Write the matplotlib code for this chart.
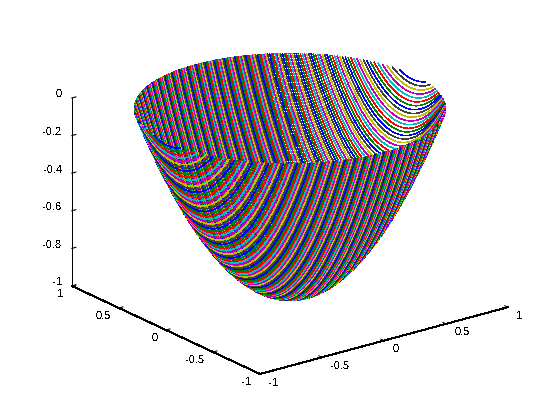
import numpy as np
import matplotlib
matplotlib.use("Agg")
import matplotlib.pyplot as plt
from mpl_toolkits.mplot3d.art3d import Line3DCollection
from mpl_toolkits.mplot3d import proj3d

plt.rcParams['font.family'] = ['Liberation Sans', 'DejaVu Sans']
plt.rcParams['text.antialiased'] = False

# values
x_ticks = [-1, -0.5, 0, 0.5, 1]
y_ticks = [-1, -0.5, 0, 0.5, 1]
z_ticks = [-1, -0.8, -0.6, -0.4, -0.2, 0]
x_tick_labels = ['-1', '-0.5', '0', '0.5', '1']
y_tick_labels = ['-1', '-0.5', '0', '0.5', '1']
z_tick_labels = ['-1', '-0.8', '-0.6', '-0.4', '-0.2', '0']
line_colors = [(0, 0, 1), (0, .5, 0), (1, 0, 0), (0, .75, .75),
               (.75, 0, .75), (.75, .75, 0), (.25, .25, .25)]
slice_count = 197     # parabola slices counted along the x direction
bowl_depth = 1.0      # depth at the centre of the bowl
ELEV, AZIM = 20.8, -127.2
BOX = (311, 311, 201)

fig = plt.figure(figsize=(5.6, 4.2), dpi=100)
ax = fig.add_axes([0.0, 0.0, 1.0, 1.0], projection='3d', proj_type='ortho')
ax.view_init(elev=ELEV, azim=AZIM)
ax.patch.set_alpha(0)

segs, cols = [], []
slices = np.linspace(-1, 1, slice_count + 2)[1:-1]
for i, c in enumerate(slices):
    half = np.sqrt(1 - c**2)
    y = np.linspace(-half, half, 80)
    z = np.minimum(bowl_depth * (c**2 + y**2 - 1), 0)
    pts = np.column_stack([np.full_like(y, c), y, z])
    for a, b in zip(pts[:-1], pts[1:]):
        segs.append([a, b])
        cols.append(line_colors[i % len(line_colors)])

# the collection does not sort its segments, so paint far ones first
segs = np.array(segs)
el, az = np.radians(ELEV), np.radians(AZIM)
view = np.array([np.cos(el) * np.cos(az) * BOX[0] / 2,
                 np.cos(el) * np.sin(az) * BOX[1] / 2,
                 np.sin(el) * BOX[2]])
order = np.argsort(segs.mean(axis=1) @ view)
lc = Line3DCollection(segs[order], colors=[cols[k] for k in order],
                      linewidths=0.36, antialiaseds=False, capstyle='butt')
ax.add_collection3d(lc)

ax.set_xlim(-1, 1); ax.set_ylim(-1, 1); ax.set_zlim(-1, 0)
ax.set_xticks(x_ticks); ax.set_yticks(y_ticks); ax.set_zticks(z_ticks)
ax.set_xticklabels(x_tick_labels)
ax.set_yticklabels(y_tick_labels)
ax.set_zticklabels(z_tick_labels)
ax.grid(False)
for axis in (ax.xaxis, ax.yaxis, ax.zaxis):
    axis.set_pane_color((1, 1, 1, 0))
    axis.pane.set_edgecolor((1, 1, 1, 0))
    axis.line.set_color('k')
    axis.line.set_linewidth(0.72)
    axis.line.set_antialiased(False)
    axis._axinfo['tick']['inward_factor'] = 0.0
    axis._axinfo['tick']['outward_factor'] = 0.2
ax.tick_params(labelsize=8, length=3, width=0.72)
ax.tick_params(axis='x', pad=-6)
ax.tick_params(axis='y', pad=-6)
ax.tick_params(axis='z', pad=-3)
ax.zaxis.set_ticks_position('upper')
ax.zaxis.set_label_position('upper')
plt.setp(ax.get_xticklabels(), ha='left')
plt.setp(ax.get_yticklabels(), ha='right')
plt.setp(ax.get_zticklabels(), ha='right', va='baseline')


def nudge(label, shift):
    """Move a tick label sideways by some pixels each time it is placed."""
    place = label.set_position

    def moved(xy):
        px = ax.transData.transform(xy) + (shift, 0)
        place(ax.transData.inverted().transform(px))
    label.set_position = moved


for labels, shift in ((ax.get_xticklabels(), 6), (ax.get_yticklabels(), -5),
                      (ax.get_zticklabels(), 4)):
    for label in labels:
        nudge(label, shift)


def corner_px(p):
    fig.canvas.draw()
    X, Y, _ = proj3d.proj_transform(*p, ax.get_proj())
    dx, dy = ax.transData.transform((X, Y))
    return np.array([dx, 420 - dy])


# fit the plot box to the pixel corners
zoom = 1.0
ax.set_box_aspect(BOX, zoom=zoom)
a = corner_px((-1, 1, -1)); b = corner_px((1, -1, -1))
zoom *= (508 - 72) / (b[0] - a[0])
ax.set_box_aspect(BOX, zoom=zoom)
a = corner_px((-1, -1, -1))
dx = (260 - a[0]) / 560
dy = -(374 - a[1]) / 420
ax.set_position([dx, dy, 1, 1])

fig.savefig('out.png', dpi=100)
